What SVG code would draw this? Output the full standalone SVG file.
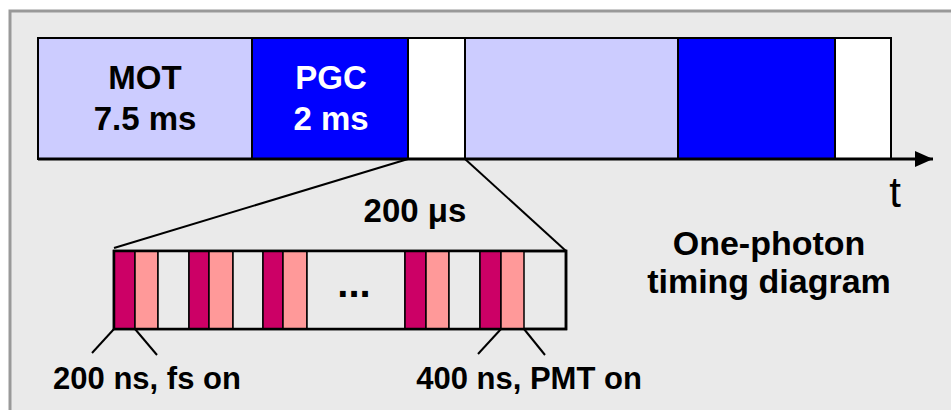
<svg xmlns="http://www.w3.org/2000/svg" width="951" height="410" viewBox="0 0 951 410">
<defs>
<style>
.lbl{font-family:"Liberation Sans",Arial,sans-serif;font-weight:bold;text-anchor:middle}
.seg{stroke:#000;stroke-width:2}
.cell{stroke:#000;stroke-width:1.5}
.ln{stroke:#000;stroke-width:2;fill:none}
.mag{fill:#cc0066}
.pnk{fill:#ff9999}
.gry{fill:#eaeaea}
</style>
<marker id="arr" viewBox="0 0 18 16" refX="18" refY="8" markerWidth="18" markerHeight="16" markerUnits="userSpaceOnUse" orient="auto">
<path d="M0,0 L18,8 L0,16 z" fill="#000"/>
</marker>
</defs>
<rect x="0" y="0" width="951" height="410" fill="#ffffff"/>
<rect x="10" y="11" width="960" height="420" fill="#eaeaea" stroke="#999999" stroke-width="3"/>

<g id="top-bar">
<rect id="mot" class="seg" x="38" y="38" width="214" height="121" fill="#ccccff"/>
<rect id="pgc" class="seg" x="252" y="38" width="156" height="121" fill="#0000ff"/>
<rect id="gap1" class="seg" x="408" y="38" width="57" height="121" fill="#ffffff"/>
<rect id="mot2" class="seg" x="465" y="38" width="213" height="121" fill="#ccccff"/>
<rect id="pgc2" class="seg" x="678" y="38" width="157" height="121" fill="#0000ff"/>
<rect id="gap2" class="seg" x="835" y="38" width="56" height="121" fill="#ffffff"/>
</g>
<g id="mot-label">
<text class="lbl" x="145" y="89" font-size="33" fill="#000">MOT</text>
<text class="lbl" x="145" y="130" font-size="33" fill="#000">7.5 ms</text>
</g>
<g id="pgc-label">
<text class="lbl" x="331" y="89" font-size="33" fill="#fff">PGC</text>
<text class="lbl" x="331" y="130" font-size="33" fill="#fff">2 ms</text>
</g>

<g id="connectors">
<line x1="38" y1="159" x2="933" y2="159" stroke="#000" stroke-width="3" marker-end="url(#arr)"/>
<line class="ln" x1="408" y1="159" x2="114" y2="248"/>
<line class="ln" x1="465" y1="159" x2="566" y2="251"/>
<line class="ln" x1="114" y1="329" x2="92" y2="353"/>
<line class="ln" x1="135" y1="329" x2="157" y2="355"/>
<line class="ln" x1="501" y1="329" x2="478" y2="354"/>
<line class="ln" x1="524" y1="329" x2="545" y2="355"/>
</g>
<text x="895" y="207" font-family="'Liberation Sans',Arial,sans-serif" font-size="42" text-anchor="middle" fill="#000">t</text>

<g id="zoom-box">
<rect class="gry" x="114" y="251" width="452" height="78" stroke="#000" stroke-width="2.5"/>
<rect class="cell mag" x="114" y="251" width="21" height="78"/>
<rect class="cell pnk" x="135" y="251" width="23" height="78"/>
<rect class="cell gry" x="158" y="251" width="31" height="78"/>
<rect class="cell mag" x="189" y="251" width="20" height="78"/>
<rect class="cell pnk" x="209" y="251" width="24" height="78"/>
<rect class="cell gry" x="233" y="251" width="30" height="78"/>
<rect class="cell mag" x="263" y="251" width="20" height="78"/>
<rect class="cell pnk" x="283" y="251" width="24" height="78"/>
<rect class="cell gry" x="307" y="251" width="98" height="78"/>
<rect class="cell mag" x="405" y="251" width="21" height="78"/>
<rect class="cell pnk" x="426" y="251" width="23" height="78"/>
<rect class="cell gry" x="449" y="251" width="31" height="78"/>
<rect class="cell mag" x="480" y="251" width="21" height="78"/>
<rect class="cell pnk" x="501" y="251" width="23" height="78"/>
<rect x="114" y="251" width="452" height="78" fill="none" stroke="#000" stroke-width="2.5"/>
<text class="lbl" x="354" y="297" font-size="40" fill="#000">...</text>
</g>

<g id="labels">
<text class="lbl" x="415" y="222" font-size="33" fill="#000">200 μs</text>
<text class="lbl" x="147" y="389" font-size="31" fill="#000">200 ns, fs on</text>
<text class="lbl" x="529" y="389" font-size="31" fill="#000">400 ns, PMT on</text>
<text class="lbl" x="769" y="255" font-size="34" fill="#000">One-photon</text>
<text class="lbl" x="769" y="293" font-size="34" fill="#000">timing diagram</text>
</g>
</svg>
